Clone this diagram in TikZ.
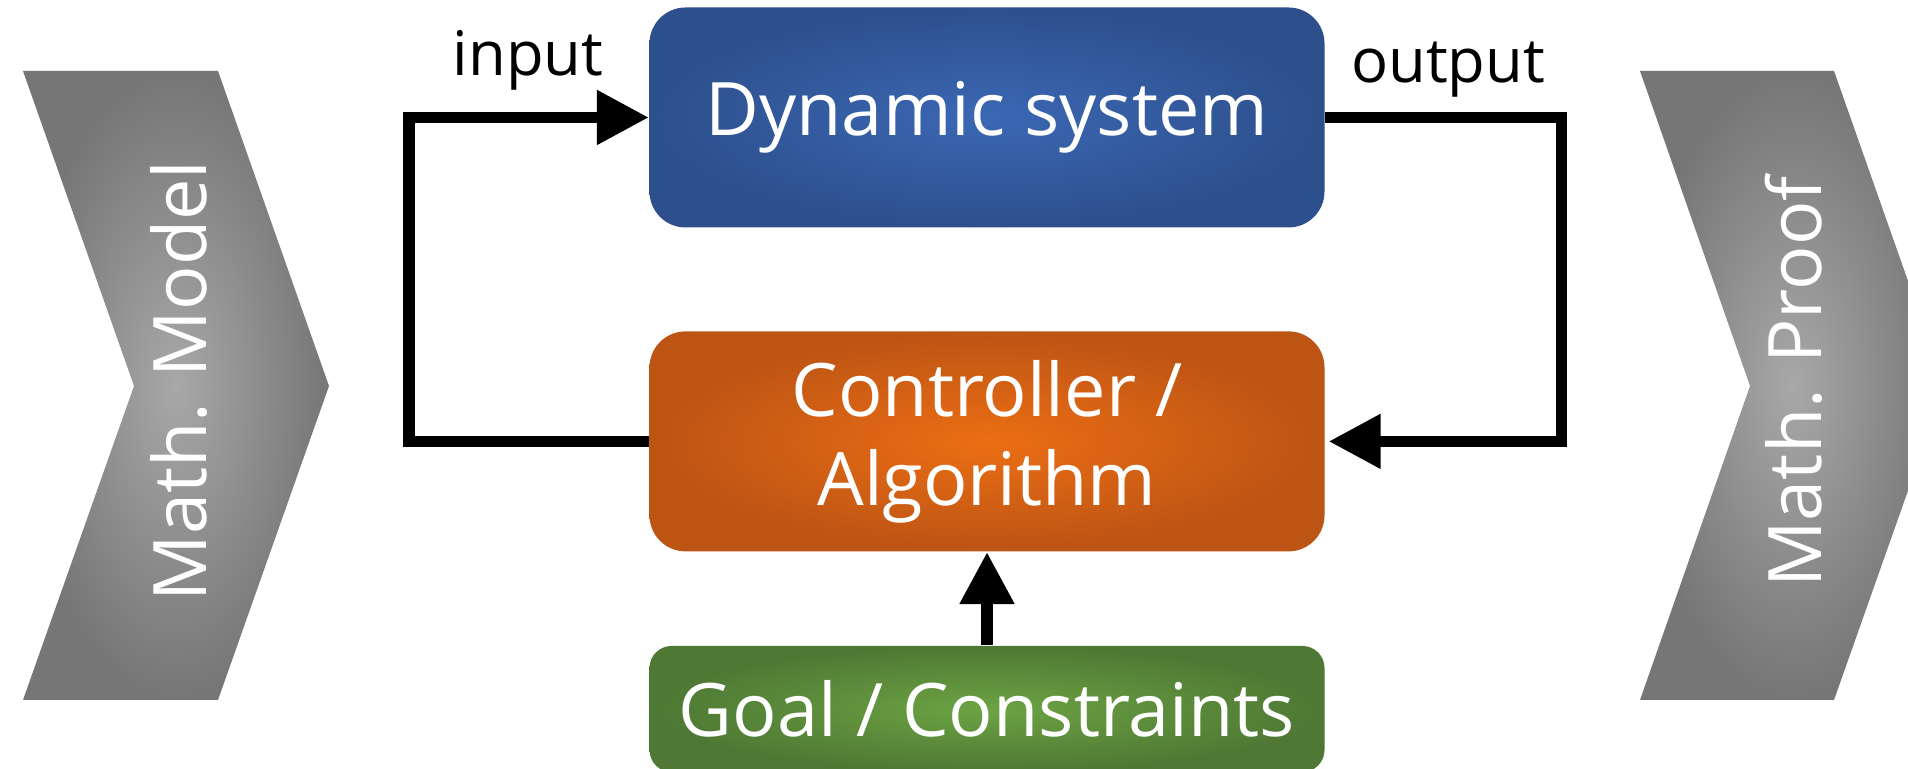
\documentclass[tikz,border=0pt]{standalone}
\usepackage{fontspec}
\setmainfont{Open Sans}
\usetikzlibrary{arrows.meta, positioning}

\definecolor{sysin}{RGB}{59,103,180}
\definecolor{sysout}{RGB}{45,80,140}
\definecolor{ctrlin}{RGB}{236,110,20}
\definecolor{ctrlout}{RGB}{188,84,20}
\definecolor{goalin}{RGB}{108,163,67}
\definecolor{goalout}{RGB}{78,120,52}
\definecolor{chevin}{RGB}{168,168,168}
\definecolor{chevout}{RGB}{118,118,118}

\begin{document}
\begin{tikzpicture}[
    block/.style={rectangle, rounded corners=0.36cm, minimum width=6.75cm, minimum height=2.2cm, inner sep=0pt, align=center, text=white, font=\fontsize{21}{25.3}\selectfont},
    flow/.style={line width=0.115cm, -{Triangle[length=0.52cm, width=0.52cm]}},
    signal/.style={anchor=base, font=\fontsize{17.5}{20}\selectfont},
    chevtext/.style={rotate=90, text=white, font=\fontsize{21}{25}\selectfont}
]
\clip (0,0) rectangle (19.08,7.69);

% Chevrons
\shade[inner color=chevin, outer color=chevout] (0.23,6.98) -- (2.18,6.98) -- (3.29,3.83) -- (2.18,0.69) -- (0.23,0.69) -- (1.34,3.83) -- cycle;
\node[chevtext] (model) at (1.79,3.88) {Math. Model};

\shade[inner color=chevin, outer color=chevout] (16.40,6.98) -- (18.34,6.98) -- (19.45,3.83) -- (18.34,0.69) -- (16.40,0.69) -- (17.50,3.83) -- cycle;
\node[chevtext] (proof) at (17.94,3.87) {Math. Proof};

% Blocks
\node[block, inner color=sysin, outer color=sysout] (sys) at (9.87,6.515) {Dynamic system};
\node[block, inner color=ctrlin, outer color=ctrlout] (ctrl) at (9.87,3.276) {Controller /\\Algorithm};
\node[block, inner color=goalin, outer color=goalout, minimum height=1.26cm, rounded corners=0.22cm] (goal) at (9.87,0.60) {Goal / Constraints};

% Loop
\coordinate (lft) at (4.09,0);
\coordinate (rgt) at (15.615,0);
\draw[flow] (ctrl.west) -- (ctrl.west -| lft) |- (sys.west);
\draw[flow, shorten >=1pt] (sys.east) -- (sys.east -| rgt) |- (ctrl.east);
\draw[flow] (goal.north) -- (ctrl.south);

\node[signal] (in) at (5.28,6.93) {input};
\node[signal] (out) at (14.48,6.86) {output};

\end{tikzpicture}
\end{document}
